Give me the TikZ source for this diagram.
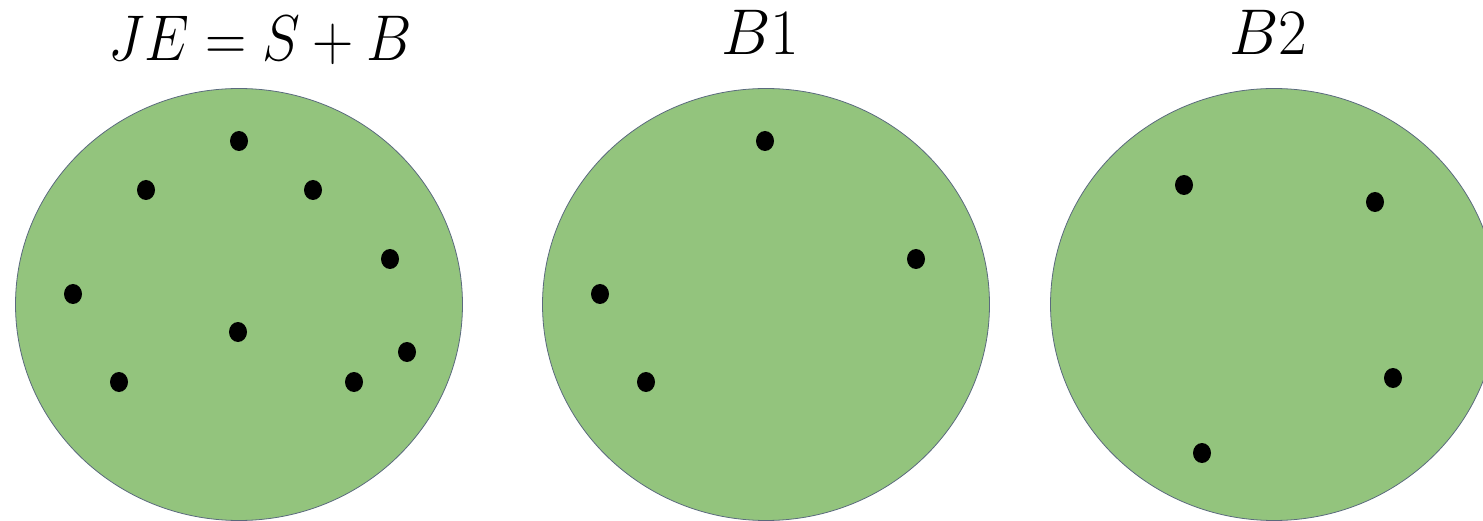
\documentclass[tikz,border=0pt]{standalone}
\usepackage{graphicx}
\definecolor{discgreen}{HTML}{93C47D}
\definecolor{rim}{HTML}{5B6A7E}
\newcommand{\biglab}[2][2.5]{\scalebox{#1}[2.6]{\Huge$#2$}}
\begin{document}
\begin{tikzpicture}[x=1pt,y=-1pt,
	disc/.style={fill=discgreen,draw=rim,line width=0.8pt},
	lab/.style={anchor=base,inner sep=0pt}]
	\useasboundingbox (0,0) rectangle (1483,521);
	\clip (0,0) rectangle (1483,521);
	\path (239,304.5) coordinate (J)
	(766,304.5) coordinate (P)
	(1274,304.5) coordinate (Q);
	\foreach \c in {J,P,Q}
	\draw[disc] (\c) ellipse (223.5pt and 216pt);
	\node[lab] (tJ) at (260,61) {\biglab[2.3]{JE=S+B}};
	\node[lab] (tP) at (760,55) {\biglab{B1}};
	\node[lab] (tQ) at (1268,55) {\biglab{B2}};
	\foreach \x/\y in {239/141,146/190,313/190,390/259,73/294,238/332,407/352,119/382,354/382,
		765/141,916/259,600/294,646/382,
		1184/185,1375/202,1393/378,1202/453}
	\fill (\x,\y) ellipse (9pt and 10pt);
\end{tikzpicture}
\end{document}
